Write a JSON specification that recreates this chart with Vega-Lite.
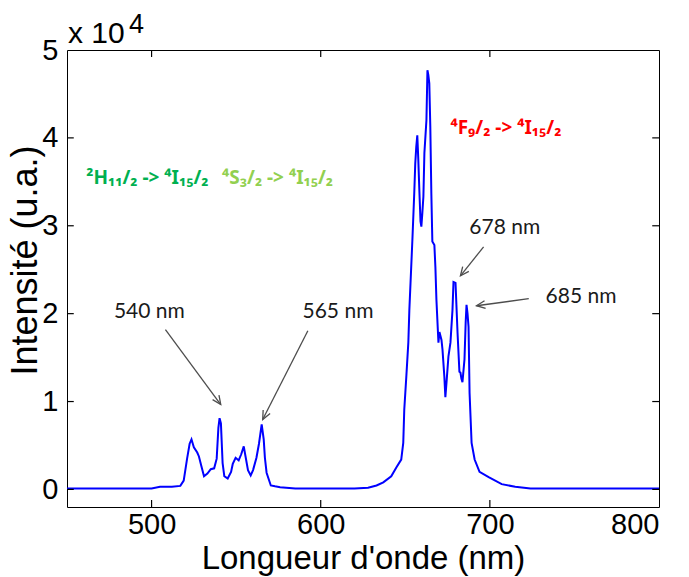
{
  "$schema": "https://vega.github.io/schema/vega-lite/v6.json",
  "width": 592,
  "height": 457,
  "autosize": {"type": "none"},
  "padding": {"left": 67, "top": 50, "right": 30, "bottom": 70},
  "background": "white",
  "config": {
    "view": {"stroke": "black", "strokeWidth": 1},
    "font": "Liberation Sans",
    "axis": {"labelColor": "black", "titleColor": "black", "grid": false, "domain": false, "ticks": false, "titleFontWeight": "normal"}
  },
  "datasets": {
    "spectrum": [
      {"nm": 450, "intensity": 100}, {"nm": 480, "intensity": 100}, {"nm": 500, "intensity": 100},
      {"nm": 505, "intensity": 300}, {"nm": 512, "intensity": 300}, {"nm": 517, "intensity": 400},
      {"nm": 519, "intensity": 1000}, {"nm": 521, "intensity": 3500}, {"nm": 522.5, "intensity": 5200},
      {"nm": 523.6, "intensity": 5700}, {"nm": 525, "intensity": 4800}, {"nm": 527, "intensity": 4200},
      {"nm": 528, "intensity": 3750}, {"nm": 529.5, "intensity": 2600}, {"nm": 531, "intensity": 1500},
      {"nm": 533, "intensity": 1800}, {"nm": 535, "intensity": 2300}, {"nm": 537, "intensity": 2400},
      {"nm": 538.5, "intensity": 3500}, {"nm": 539.5, "intensity": 7000}, {"nm": 540.2, "intensity": 8100},
      {"nm": 541, "intensity": 7500}, {"nm": 542, "intensity": 3000}, {"nm": 543, "intensity": 1500},
      {"nm": 545, "intensity": 1250}, {"nm": 547, "intensity": 2000}, {"nm": 548, "intensity": 2900},
      {"nm": 549.7, "intensity": 3600}, {"nm": 551.5, "intensity": 3300}, {"nm": 553, "intensity": 4000},
      {"nm": 554.5, "intensity": 4900}, {"nm": 555.5, "intensity": 3800}, {"nm": 557, "intensity": 2200},
      {"nm": 558.6, "intensity": 1600}, {"nm": 560, "intensity": 2200}, {"nm": 562, "intensity": 3600},
      {"nm": 563.5, "intensity": 5200}, {"nm": 565.1, "intensity": 7400}, {"nm": 566.3, "intensity": 5700},
      {"nm": 567, "intensity": 3600}, {"nm": 568, "intensity": 1900}, {"nm": 570.5, "intensity": 450},
      {"nm": 573, "intensity": 350}, {"nm": 576, "intensity": 250}, {"nm": 585, "intensity": 100},
      {"nm": 600, "intensity": 100}, {"nm": 620, "intensity": 100}, {"nm": 628, "intensity": 200},
      {"nm": 633, "intensity": 450}, {"nm": 637, "intensity": 800}, {"nm": 641.7, "intensity": 1500},
      {"nm": 644.7, "intensity": 2500}, {"nm": 647.6, "intensity": 3400}, {"nm": 648.8, "intensity": 5300},
      {"nm": 649.4, "intensity": 9100}, {"nm": 650.6, "intensity": 12800}, {"nm": 651.8, "intensity": 16700},
      {"nm": 652.4, "intensity": 20400}, {"nm": 654.2, "intensity": 28400}, {"nm": 655.3, "intensity": 33700},
      {"nm": 655.9, "intensity": 37100}, {"nm": 656.5, "intensity": 39000}, {"nm": 657.1, "intensity": 40300},
      {"nm": 657.7, "intensity": 37500}, {"nm": 658.3, "intensity": 34100}, {"nm": 659, "intensity": 30500},
      {"nm": 659.5, "intensity": 29900}, {"nm": 660.1, "intensity": 31500}, {"nm": 660.7, "intensity": 33300},
      {"nm": 661.3, "intensity": 38300}, {"nm": 662.5, "intensity": 42000}, {"nm": 663.1, "intensity": 47700},
      {"nm": 663.6, "intensity": 47200}, {"nm": 664.2, "intensity": 46200}, {"nm": 664.8, "intensity": 41200},
      {"nm": 665.4, "intensity": 33700}, {"nm": 666, "intensity": 28200}, {"nm": 667.2, "intensity": 27800},
      {"nm": 667.8, "intensity": 25300}, {"nm": 668.4, "intensity": 21600}, {"nm": 669.6, "intensity": 16700},
      {"nm": 670.2, "intensity": 17900}, {"nm": 671.4, "intensity": 17000}, {"nm": 672, "intensity": 15900},
      {"nm": 673.1, "intensity": 12800}, {"nm": 673.7, "intensity": 10500}, {"nm": 674.5, "intensity": 12500},
      {"nm": 675.5, "intensity": 15100}, {"nm": 676.7, "intensity": 16700}, {"nm": 677.9, "intensity": 20400},
      {"nm": 678.5, "intensity": 23600}, {"nm": 679.7, "intensity": 23500}, {"nm": 680.9, "intensity": 17800},
      {"nm": 682, "intensity": 13400}, {"nm": 682.6, "intensity": 13300}, {"nm": 683.2, "intensity": 12600},
      {"nm": 683.8, "intensity": 12200}, {"nm": 685, "intensity": 14800}, {"nm": 685.7, "intensity": 19000},
      {"nm": 686.2, "intensity": 21000}, {"nm": 686.8, "intensity": 20000}, {"nm": 687.4, "intensity": 18500},
      {"nm": 688, "intensity": 11000}, {"nm": 689.2, "intensity": 5300}, {"nm": 691, "intensity": 3400},
      {"nm": 693.9, "intensity": 2000}, {"nm": 699.3, "intensity": 1400}, {"nm": 707, "intensity": 600},
      {"nm": 715, "intensity": 300}, {"nm": 724, "intensity": 100}, {"nm": 800, "intensity": 100}
    ],
    "arrows": [
      {"peak": "540", "x1": 508.2, "y1": 18180, "x2": 540.9, "y2": 9660},
      {"peak": "565", "x1": 592.4, "y1": 18060, "x2": 565.7, "y2": 7950},
      {"peak": "678", "x1": 696.3, "y1": 27600, "x2": 682.6, "y2": 24300},
      {"peak": "685", "x1": 723.0, "y1": 21700, "x2": 692.1, "y2": 20900}
    ],
    "notes": [
      {"text": "540 nm", "nm": 498.7, "intensity": 20230},
      {"text": "565 nm", "nm": 610.2, "intensity": 20230},
      {"text": "678 nm", "nm": 708.8, "intensity": 29770},
      {"text": "685 nm", "nm": 753.9, "intensity": 21930}
    ],
    "transitions": [
      {"text": "²H₁₁/₂ -> ⁴I₁₅/₂", "nm": 497.5, "intensity": 35450, "group": "H"},
      {"text": "⁴S₃/₂ -> ⁴I₁₅/₂", "nm": 574.5, "intensity": 35450, "group": "S"},
      {"text": "⁴F₉/₂ -> ⁴I₁₅/₂", "nm": 709.5, "intensity": 41140, "group": "F"}
    ],
    "corner": [{"nm": 450, "intensity": 50000}],
    "xticks": [{"nm": 500}, {"nm": 600}, {"nm": 700}],
    "yticks": [{"intensity": 0}, {"intensity": 10000}, {"intensity": 20000}, {"intensity": 30000}, {"intensity": 40000}]
  },
  "layer": [
    {
      "data": {"name": "spectrum"},
      "mark": {"type": "line", "color": "#0000ff", "strokeWidth": 2, "interpolate": "linear"},
      "encoding": {
        "x": {"field": "nm", "type": "quantitative", "scale": {"domain": [450, 800], "nice": false, "zero": false},
          "axis": {"orient": "bottom", "values": [500, 600, 700, 800], "title": "Longueur d'onde (nm)",
            "labelFontSize": 29, "titleFontSize": 33, "labelPadding": 3, "titleX": 296, "titleY": 51, "titleBaseline": "middle"}},
        "y": {"field": "intensity", "type": "quantitative", "scale": {"domain": [-2000, 50000], "nice": false, "zero": false},
          "axis": {"orient": "left", "values": [0, 10000, 20000, 30000, 40000, 50000], "labelExpr": "datum.value / 10000", "title": "Intensité (u.a.)",
            "labelFontSize": 29, "titleFontSize": 36, "labelPadding": 9, "titleX": -42, "titleY": 210, "titleBaseline": "middle", "titleAngle": -90, "titleAlign": "center"}}
      }
    },
    {
      "data": {"name": "xticks"},
      "mark": {"type": "rule", "color": "black", "strokeWidth": 1.2},
      "encoding": {
        "x": {"field": "nm", "type": "quantitative"},
        "y": {"datum": -2000, "type": "quantitative"},
        "y2": {"datum": -1200}
      }
    },
    {
      "data": {"name": "xticks"},
      "mark": {"type": "rule", "color": "black", "strokeWidth": 1.2},
      "encoding": {
        "x": {"field": "nm", "type": "quantitative"},
        "y": {"datum": 50000, "type": "quantitative"},
        "y2": {"datum": 49200}
      }
    },
    {
      "data": {"name": "yticks"},
      "mark": {"type": "rule", "color": "black", "strokeWidth": 1.2},
      "encoding": {
        "x": {"datum": 450, "type": "quantitative"},
        "x2": {"datum": 454},
        "y": {"field": "intensity", "type": "quantitative"}
      }
    },
    {
      "data": {"name": "yticks"},
      "mark": {"type": "rule", "color": "black", "strokeWidth": 1.2},
      "encoding": {
        "x": {"datum": 800, "type": "quantitative"},
        "x2": {"datum": 796},
        "y": {"field": "intensity", "type": "quantitative"}
      }
    },
    {
      "data": {"name": "arrows"},
      "mark": {"type": "rule", "color": "#4d4d4d", "strokeWidth": 1.3},
      "encoding": {
        "x": {"field": "x1", "type": "quantitative"},
        "y": {"field": "y1", "type": "quantitative"},
        "x2": {"field": "x2"},
        "y2": {"field": "y2"}
      }
    },
    {
      "data": {"name": "arrows"},
      "transform": [{"filter": "datum.peak == '540'"}],
      "mark": {"type": "point", "shape": "M-0.45,1L0,0L0.45,1", "filled": false, "stroke": "#4d4d4d", "strokeWidth": 1.3, "size": 300, "angle": 145, "opacity": 1},
      "encoding": {
        "x": {"field": "x2", "type": "quantitative"},
        "y": {"field": "y2", "type": "quantitative"}
      }
    },
    {
      "data": {"name": "arrows"},
      "transform": [{"filter": "datum.peak == '565'"}],
      "mark": {"type": "point", "shape": "M-0.45,1L0,0L0.45,1", "filled": false, "stroke": "#4d4d4d", "strokeWidth": 1.3, "size": 300, "angle": 207, "opacity": 1},
      "encoding": {
        "x": {"field": "x2", "type": "quantitative"},
        "y": {"field": "y2", "type": "quantitative"}
      }
    },
    {
      "data": {"name": "arrows"},
      "transform": [{"filter": "datum.peak == '678'"}],
      "mark": {"type": "point", "shape": "M-0.45,1L0,0L0.45,1", "filled": false, "stroke": "#4d4d4d", "strokeWidth": 1.3, "size": 300, "angle": 218, "opacity": 1},
      "encoding": {
        "x": {"field": "x2", "type": "quantitative"},
        "y": {"field": "y2", "type": "quantitative"}
      }
    },
    {
      "data": {"name": "arrows"},
      "transform": [{"filter": "datum.peak == '685'"}],
      "mark": {"type": "point", "shape": "M-0.45,1L0,0L0.45,1", "filled": false, "stroke": "#4d4d4d", "strokeWidth": 1.3, "size": 300, "angle": 262, "opacity": 1},
      "encoding": {
        "x": {"field": "x2", "type": "quantitative"},
        "y": {"field": "y2", "type": "quantitative"}
      }
    },
    {
      "data": {"name": "notes"},
      "mark": {"type": "text", "font": "Lato", "fontSize": 21, "color": "#1a1a1a", "align": "center", "baseline": "middle"},
      "encoding": {
        "x": {"field": "nm", "type": "quantitative"},
        "y": {"field": "intensity", "type": "quantitative"},
        "text": {"field": "text"}
      }
    },
    {
      "data": {"name": "transitions"},
      "mark": {"type": "text", "font": "Noto Sans", "fontWeight": "bold", "fontSize": 19, "align": "center", "baseline": "middle"},
      "encoding": {
        "x": {"field": "nm", "type": "quantitative"},
        "y": {"field": "intensity", "type": "quantitative"},
        "text": {"field": "text"},
        "color": {"field": "group", "type": "nominal", "scale": {"domain": ["H", "S", "F"], "range": ["#00b050", "#92d050", "#ff0000"]}, "legend": null}
      }
    },
    {
      "data": {"name": "corner"},
      "mark": {"type": "text", "fontSize": 30, "color": "black", "align": "left", "baseline": "alphabetic", "dx": 1, "dy": -7},
      "encoding": {
        "x": {"field": "nm", "type": "quantitative"},
        "y": {"field": "intensity", "type": "quantitative"},
        "text": {"value": "x 10"}
      }
    },
    {
      "data": {"name": "corner"},
      "mark": {"type": "text", "fontSize": 27, "color": "black", "align": "left", "baseline": "alphabetic", "dx": 62, "dy": -17},
      "encoding": {
        "x": {"field": "nm", "type": "quantitative"},
        "y": {"field": "intensity", "type": "quantitative"},
        "text": {"value": "4"}
      }
    }
  ]
}
